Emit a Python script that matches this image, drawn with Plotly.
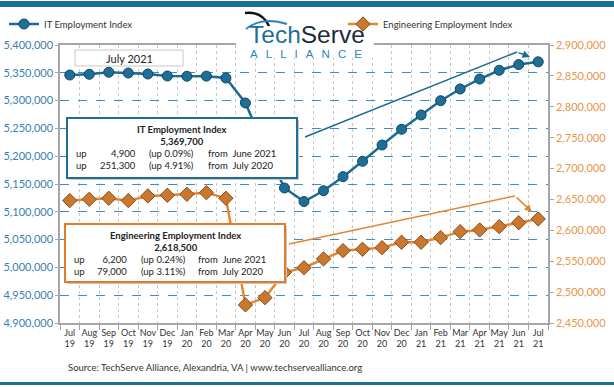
import plotly.graph_objects as go

months = ["Jul 19", "Aug 19", "Sep 19", "Oct 19", "Nov 19", "Dec 19", "Jan 20", "Feb 20",
          "Mar 20", "Apr 20", "May 20", "Jun 20", "Jul 20", "Aug 20", "Sep 20", "Oct 20",
          "Nov 20", "Dec 20", "Jan 21", "Feb 21", "Mar 21", "Apr 21", "May 21", "Jun 21", "Jul 21"]
tick_text = [m.replace(" ", "<br>") for m in months]

it_values = [5346000, 5347300, 5350900, 5349600, 5347800, 5344200, 5343700, 5344000,
             5340600, 5295700, 5215000, 5142800, 5118400, 5137900, 5163200, 5190800,
             5220100, 5248400, 5274100, 5299800, 5320900, 5338800, 5354500, 5364800, 5369700]
eng_values = [2648100, 2650300, 2651900, 2648100, 2655700, 2656800, 2658400, 2661000,
              2651900, 2479300, 2491000, 2532000, 2539500, 2553700, 2567200, 2569400,
              2572000, 2580700, 2580700, 2588200, 2597900, 2600600, 2606000, 2612300, 2618500]

it_box_title = ["IT Employment Index", "5,369,700"]
it_box_rows = [["up", "4,900", "(up 0.09%)", "from  June 2021"],
               ["up", "251,300", "(up 4.91%)", "from  July 2020"]]
eng_box_title = ["Engineering Employment Index", "2,618,500"]
eng_box_rows = [["up", "6,200", "(up 0.24%)", "from  June 2021"],
                ["up", "79,000", "(up 3.11%)", "from  July 2020"]]

W, H = 614, 387
L, R, T, B = 60, 548, 45, 323
FONT = "Lato"
IT_C = "#1b6b93"
ENG_C = "#e5862f"


def PX(x):
    return (x - L) / (R - L)


def PY(y):
    return (B - y) / (B - T)


fig = go.Figure()
fig.add_trace(go.Scatter(
    x=months, y=it_values, name="IT Employment Index", mode="lines+markers",
    line=dict(color=IT_C, width=2.5),
    marker=dict(symbol="circle", size=10, color="#1f6e96", line=dict(color="#0d4767", width=1)),
    legend="legend", yaxis="y"))
fig.add_trace(go.Scatter(
    x=months, y=eng_values, name="Engineering Employment Index", mode="lines+markers",
    line=dict(color=ENG_C, width=2.5),
    marker=dict(symbol="diamond", size=11, color="#c9782f", line=dict(color="#8a4a14", width=1)),
    legend="legend2", yaxis="y2"))

shapes = []
ann = []

# top and bottom bars
shapes.append(dict(type="rect", xref="paper", yref="paper", x0=PX(0), x1=PX(W), y0=PY(7), y1=PY(1),
                   fillcolor="#1d6e97", line=dict(width=0), layer="above"))
shapes.append(dict(type="rect", xref="paper", yref="paper", x0=PX(0), x1=PX(W), y0=PY(385), y1=PY(382),
                   fillcolor="#1d6e97", line=dict(width=0), layer="above"))

# logo background
shapes.append(dict(type="rect", xref="paper", yref="paper", x0=PX(236), x1=PX(374), y0=PY(58), y1=PY(9),
                   fillcolor="white", line=dict(width=0), layer="above"))


def path_px(pts):
    s = "M %f,%f" % (PX(pts[0][0]), PY(pts[0][1]))
    s += " Q %f,%f %f,%f" % (PX(pts[1][0]), PY(pts[1][1]), PX(pts[2][0]), PY(pts[2][1]))
    return s


shapes.append(dict(type="path", xref="paper", yref="paper", path=path_px([(245, 13), (262, 11), (269, 26)]),
                   line=dict(color="#111111", width=2.5), layer="above"))
shapes.append(dict(type="path", xref="paper", yref="paper", path=path_px([(246, 29), (262, 16), (287, 24)]),
                   line=dict(color="#2b86c0", width=2), layer="above"))
ann.append(dict(xref="paper", yref="paper", x=PX(307), y=PY(34.5), showarrow=False, xanchor="center", yanchor="middle",
                text="<span style='color:#1f6e9a'>Tech</span><span style='color:#1c2b3a'>Serve</span>",
                font=dict(family="Liberation Sans", size=24.5), borderpad=0))
sp = "\u2002\u2009"
ann.append(dict(xref="paper", yref="paper", x=PX(306), y=PY(54), showarrow=False,
                xanchor="center", yanchor="middle", text=sp.join("ALLIANCE"), borderpad=0,
                font=dict(family="Liberation Sans", size=11.5, color="#2b86c0")))

# July 2021 box
shapes.append(dict(type="rect", xref="paper", yref="paper", x0=PX(75), x1=PX(183), y0=PY(66), y1=PY(50),
                   fillcolor="white", line=dict(color="#c8c8c8", width=1), layer="above"))
ann.append(dict(xref="paper", yref="paper", x=PX(129), y=PY(58), showarrow=False, text="July 2021",
                xanchor="center", yanchor="middle", font=dict(family=FONT, size=11, color="#222")))

# trend arrows
shapes.append(dict(type="line", xref="paper", yref="paper", x0=PX(305), y0=PY(137), x1=PX(517), y1=PY(52),
                   line=dict(color=IT_C, width=1.5), layer="above"))
ann.append(dict(xref="paper", yref="paper", x=PX(530), y=PY(57), ax=-13, ay=-5, axref="pixel", ayref="pixel",
                showarrow=True, arrowhead=2, arrowsize=1, arrowwidth=1.5, arrowcolor=IT_C, text=""))
shapes.append(dict(type="line", xref="paper", yref="paper", x0=PX(289), y0=PY(244), x1=PX(515), y1=PY(196),
                   line=dict(color=ENG_C, width=1.5), layer="above"))
ann.append(dict(xref="paper", yref="paper", x=PX(532), y=PY(212), ax=-17, ay=-16, axref="pixel", ayref="pixel",
                showarrow=True, arrowhead=2, arrowsize=1, arrowwidth=1.5, arrowcolor=ENG_C, text=""))


def info_box(x0, x1, y0, y1, color, title, rows, cols, ty, ry):
    shapes.append(dict(type="rect", xref="paper", yref="paper", x0=PX(x0 + 2), x1=PX(x1 + 2), y0=PY(y1 + 2), y1=PY(y0 + 2),
                       fillcolor="#c8c8c8", line=dict(width=0), layer="above"))
    shapes.append(dict(type="rect", xref="paper", yref="paper", x0=PX(x0), x1=PX(x1), y0=PY(y1), y1=PY(y0),
                       fillcolor="white", line=dict(color=color, width=2), layer="above"))
    cx = (x0 + x1) / 2
    ann.append(dict(xref="paper", yref="paper", x=PX(cx), y=PY(ty), showarrow=False, xanchor="center",
                    yanchor="middle", align="center", borderpad=0,
                    text="<br>".join("<b>" + t + "</b>" for t in title),
                    font=dict(family=FONT, size=9.5, color="#222")))
    for j, (cxp, anchor) in enumerate(cols):
        ann.append(dict(xref="paper", yref="paper", x=PX(cxp), y=PY(ry), showarrow=False, xanchor=anchor,
                        yanchor="middle", align=anchor, borderpad=0,
                        text="<br>".join(r[j] for r in rows),
                        font=dict(family=FONT, size=9.5, color="#222")))


info_box(67, 297, 118, 178, "#1f6e96", it_box_title, it_box_rows,
         [(75, "left"), (137, "right"), (148, "left"), (207, "left")], 135, 159.5)
info_box(65, 285, 224, 282, "#e07b2a", eng_box_title, eng_box_rows,
         [(73, "left"), (128, "right"), (140, "left"), (197, "left")], 241, 265.5)

ann.append(dict(xref="paper", yref="paper", x=PX(66), y=PY(367), showarrow=False, xanchor="left", yanchor="middle",
                text="Source: TechServe Alliance, Alexandria, VA | www.techservealliance.org",
                font=dict(family=FONT, size=9.5, color="#333")))

fig.update_layout(
    width=W, height=H, autosize=False,
    margin=dict(l=L, r=W - R, t=T, b=H - B, pad=0, autoexpand=False),
    paper_bgcolor="white", plot_bgcolor="white",
    font=dict(family=FONT, size=11, color="#333"),
    xaxis=dict(type="category", categoryorder="array", categoryarray=months,
               tickmode="array", tickvals=months, ticktext=tick_text,
               range=[-0.5, len(months) - 0.5], tickson="boundaries", automargin=False,
               showgrid=True, gridcolor="#c8c8c8", griddash="dot", gridwidth=1,
               showline=True, linecolor="#a6a6a6", linewidth=1.5, mirror=True,
               ticks="outside", ticklen=5, tickcolor="#a6a6a6",
               tickfont=dict(family=FONT, size=9, color="#333"), tickangle=0),
    yaxis=dict(range=[4900000, 5400000], dtick=50000, tickformat=",", automargin=False,
               showgrid=True, gridcolor="#3a8fc6", griddash="dash", gridwidth=1,
               showline=True, linecolor="#a6a6a6", linewidth=1.5,
               ticks="outside", ticklen=3, tickcolor="#a6a6a6",
               tickfont=dict(family=FONT, size=11, color="#3a7fb0"), zeroline=False),
    yaxis2=dict(range=[2450000, 2900000], dtick=50000, tickformat=",", overlaying="y", side="right",
                automargin=False, showgrid=False, showline=True, linecolor="#a6a6a6", linewidth=1.5,
                ticks="outside", ticklen=4, tickcolor="#a6a6a6",
                tickfont=dict(family=FONT, size=11, color="#e8954a"), zeroline=False),
    legend=dict(x=PX(4), y=PY(24), xanchor="left", yanchor="middle", bgcolor="rgba(0,0,0,0)",
                font=dict(family=FONT, size=9.5, color="#333"), itemwidth=30, orientation="h"),
    legend2=dict(x=PX(343), y=PY(24), xanchor="left", yanchor="middle", bgcolor="rgba(0,0,0,0)",
                 font=dict(family=FONT, size=9.5, color="#333"), itemwidth=30, orientation="h"),
    shapes=shapes, annotations=ann,
    showlegend=True,
)

fig.write_html("out.html", config={"displayModeBar": False},
               post_script="document.body.style.margin='0';document.body.style.overflow='hidden';")
